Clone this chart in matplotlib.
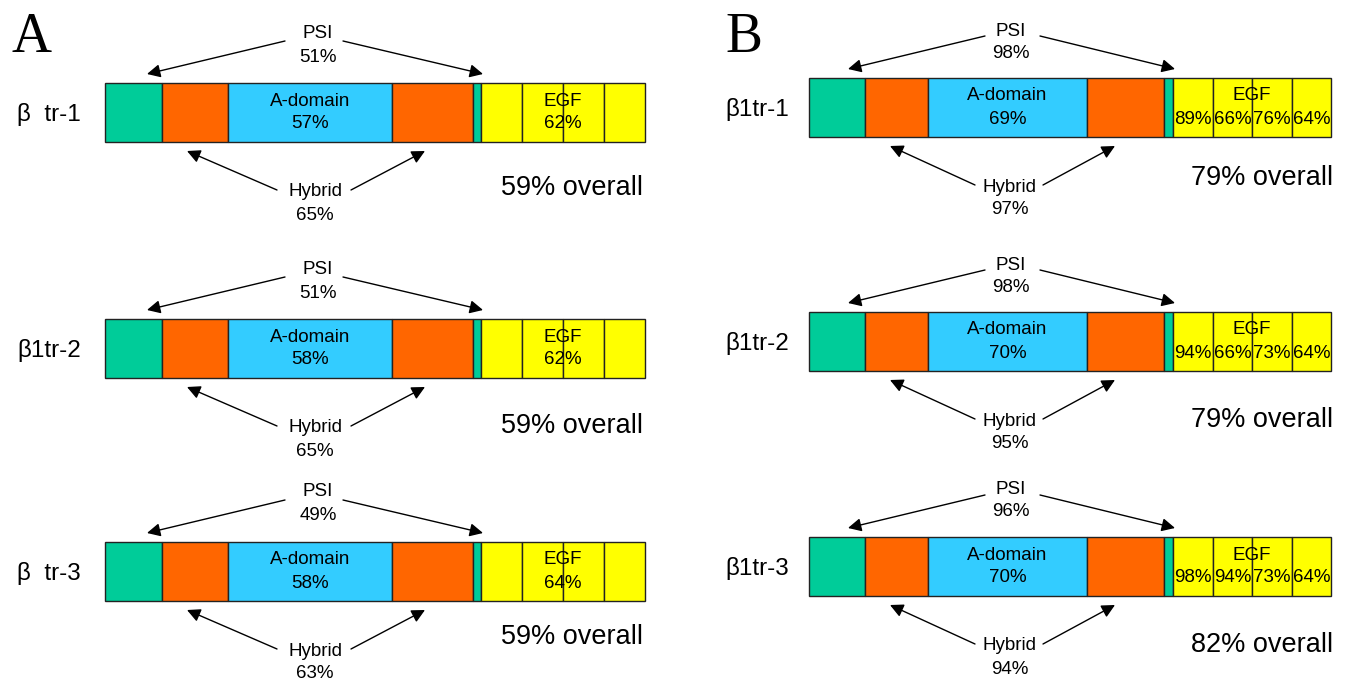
import numpy as np
import matplotlib.pyplot as plt

plt.rcParams['font.family'] = ['Liberation Sans', 'DejaVu Sans']

# domain order along each construct
domains = ['PSI', 'Hybrid', 'A-domain', 'Hybrid', 'PSI', 'EGF1', 'EGF2', 'EGF3', 'EGF4']
widths_A = [57, 66, 164, 81, 8, 41, 41, 41, 41]
widths_B = [56, 63, 159, 77, 9, 40, 39, 40, 39]
dom_colors = {'PSI': '#00CC99', 'Hybrid': '#FF6600', 'A-domain': '#33CCFF',
              'EGF1': '#FFFF00', 'EGF2': '#FFFF00', 'EGF3': '#FFFF00', 'EGF4': '#FFFF00'}

# panel A
rows_A = ['β  tr-1', 'β1tr-2', 'β  tr-3']
psi_A = ['51%', '51%', '49%']
adom_A = ['57%', '58%', '58%']
egf_A = ['62%', '62%', '64%']
hybrid_A = ['65%', '65%', '63%']
overall_A = ['59%', '59%', '59%']

# panel B
rows_B = ['β1tr-1', 'β1tr-2', 'β1tr-3']
psi_B = ['98%', '98%', '96%']
adom_B = ['69%', '70%', '70%']
egf_B = [['89%', '66%', '76%', '64%'],
         ['94%', '66%', '73%', '64%'],
         ['98%', '94%', '73%', '64%']]
hybrid_B = ['97%', '95%', '94%']
overall_B = ['79%', '79%', '82%']

FS = 13.5
BAR_H = 59


def draw_panel(ax, x0, tops, widths, names, psi, adom, egf, hybrid, overall,
               overall_y, label_x, psi_dy, arrows, egf_split):
    lefts = x0 + np.concatenate([[0], np.cumsum(widths)[:-1]])
    centers = lefts + np.array(widths) / 2
    for i, top in enumerate(tops):
        yc = top + BAR_H / 2
        ax.barh([yc] * len(widths), widths, left=lefts, height=BAR_H,
                color=[dom_colors[d] for d in domains], edgecolor='#222222', lw=1)
        ax.text(label_x, yc + 2, names[i], fontsize=17.5, ha='left', va='center')
        # A-domain
        ax.text(centers[2], top + 18, 'A-domain', fontsize=FS, ha='center', va='center')
        ax.text(centers[2], top + 41, adom[i], fontsize=FS, ha='center', va='center')
        # EGF
        egf_c = lefts[5] + sum(widths[5:]) / 2
        ax.text(egf_c, top + 18, 'EGF', fontsize=FS, ha='center', va='center')
        if egf_split:
            for k in range(4):
                ax.text(centers[5 + k], top + 41, egf[i][k], fontsize=FS,
                        ha='center', va='center')
        else:
            ax.text(egf_c, top + 41, egf[i], fontsize=FS, ha='center', va='center')
        # PSI label + arrows
        pc = arrows['psi_c']
        ax.text(pc, top + psi_dy[0], 'PSI', fontsize=FS, ha='center', va='center')
        ax.text(pc, top + psi_dy[1], psi[i], fontsize=FS, ha='center', va='center')
        for (sx, tx) in arrows['psi']:
            ax.annotate('', xy=(tx, top - 9), xytext=(sx, top - 42),
                        arrowprops=dict(arrowstyle='-|>', color='black', lw=1,
                                        mutation_scale=20, shrinkA=0, shrinkB=0))
        # Hybrid label + arrows
        hc = arrows['hyb_c']
        ax.text(hc, top + 109, 'Hybrid', fontsize=FS, ha='center', va='center')
        ax.text(hc, top + 132, hybrid[i], fontsize=FS, ha='center', va='center')
        for (sx, tx) in arrows['hyb']:
            ax.annotate('', xy=(tx, top + BAR_H + 9), xytext=(sx, top + 107),
                        arrowprops=dict(arrowstyle='-|>', color='black', lw=1,
                                        mutation_scale=20, shrinkA=0, shrinkB=0))
        ax.text(arrows['ov_c'], overall_y[i], overall[i] + ' overall', fontsize=19.5,
                ha='center', va='center')


fig = plt.figure(figsize=(13.48, 6.86), dpi=100)
ax = fig.add_axes([0, 0, 1, 1])
ax.set_xlim(0, 1348)
ax.set_ylim(686, 0)
ax.axis('off')

draw_panel(ax, 105, [83, 319, 542], widths_A, rows_A, psi_A, adom_A, egf_A,
           hybrid_A, overall_A, [188, 426, 637], 17, (-50, -26),
           {'psi_c': 318, 'psi': [(285, 147), (343, 483)],
            'hyb_c': 315, 'hyb': [(277, 187), (351, 425)], 'ov_c': 572},
           False)
draw_panel(ax, 809, [78, 312, 537], widths_B, rows_B, psi_B, adom_B, egf_B,
           hybrid_B, overall_B, [178, 420, 645], 725, (-47, -25),
           {'psi_c': 1011, 'psi': [(985, 848), (1040, 1175)],
            'hyb_c': 1010, 'hyb': [(975, 890), (1043, 1115)], 'ov_c': 1262},
           True)

ax.text(12, 38, 'A', fontsize=40, family=['Liberation Serif'], ha='left', va='center')
ax.text(725, 38, 'B', fontsize=40, family=['Liberation Serif'], ha='left', va='center')

fig.savefig('out.png', dpi=100)
